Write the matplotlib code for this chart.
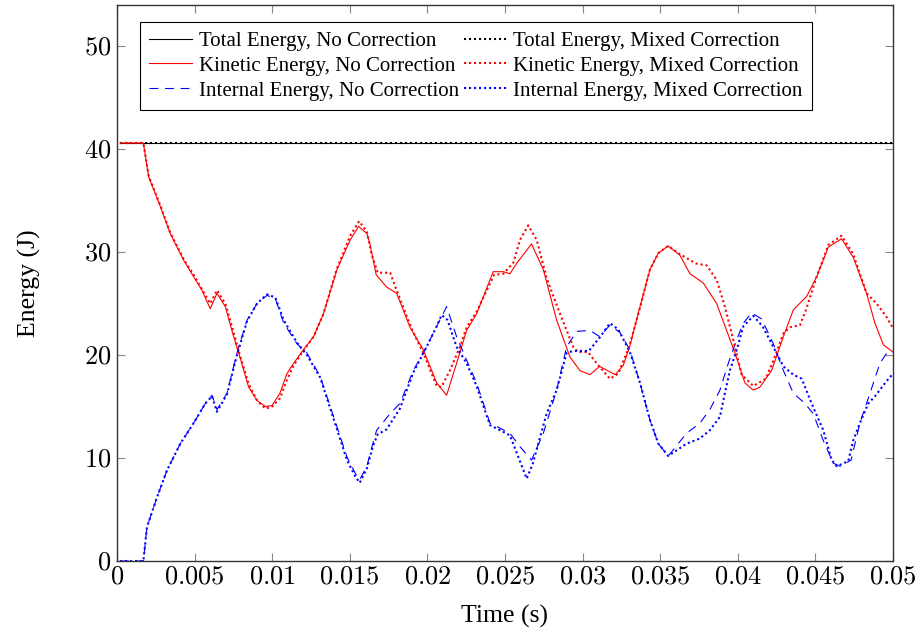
import numpy as np
import matplotlib
matplotlib.use("Agg")
import matplotlib.pyplot as plt
from matplotlib.ticker import FuncFormatter

plt.rcParams['font.family'] = ['Liberation Serif', 'DejaVu Serif']
plt.rcParams['mathtext.fontset'] = 'cm'

# total energy (both runs)
t_tot = [0.0002, 0.05]
e_tot_nc = [40.6, 40.6]
e_tot_mc = [40.6, 40.6]

# kinetic energy, no correction
t_ke_nc = [0.0002, 0.0016, 0.0017, 0.00204, 0.0028, 0.00343, 0.0043, 0.00494, 0.00547, 0.00601,
           0.00644, 0.00698, 0.0074, 0.00784, 0.00848, 0.00902, 0.00956, 0.00999, 0.0105, 0.01095,
           0.01138, 0.0120, 0.01267, 0.0133, 0.01417, 0.01503, 0.01557, 0.0161, 0.0163, 0.0167,
           0.01738, 0.01802, 0.01888, 0.01974, 0.0206, 0.02124, 0.02188, 0.02253, 0.02317, 0.02424,
           0.02489, 0.02532, 0.02575, 0.02671, 0.02747, 0.02833, 0.02919, 0.02983, 0.03047, 0.0311,
           0.0321, 0.03262, 0.03305, 0.0337, 0.03434, 0.03488, 0.03552, 0.03627, 0.03692, 0.03778,
           0.03864, 0.03928, 0.03982, 0.04046, 0.041, 0.04143, 0.04218, 0.04294, 0.04358, 0.04444,
           0.04508, 0.04584, 0.04669, 0.04744, 0.0483, 0.04884, 0.04938, 0.05]
e_ke_nc = [40.6, 40.6, 40.6, 37.3, 34.4, 31.8, 29.2, 27.6, 26.3, 24.5,
           26.0, 24.7, 22.4, 20.2, 16.9, 15.6, 15.0, 15.1, 16.3, 18.2,
           19.2, 20.5, 21.8, 24.0, 28.3, 31.2, 32.5, 31.8, 30.8, 27.8,
           26.6, 26.0, 22.7, 20.5, 17.3, 16.1, 19.2, 22.4, 24.0, 28.1,
           28.1, 27.9, 28.9, 30.8, 28.3, 23.4, 19.8, 18.5, 18.1, 18.9,
           18.1, 19.0, 20.9, 24.7, 28.3, 29.9, 30.6, 29.7, 27.9, 27.0,
           25.0, 22.4, 20.2, 17.3, 16.6, 16.9, 18.5, 21.8, 24.4, 25.7,
           27.6, 30.5, 31.3, 29.5, 26.0, 23.1, 21.0, 20.3]

# kinetic energy, mixed correction
t_ke_mc = [0.0002, 0.0016, 0.0017, 0.00204, 0.0028, 0.00343, 0.0043, 0.00494, 0.00547, 0.00601,
           0.00644, 0.00698, 0.0074, 0.00784, 0.00848, 0.00902, 0.00956, 0.00999, 0.0105, 0.01095,
           0.01138, 0.0120, 0.01267, 0.0133, 0.01417, 0.01503, 0.0156, 0.0161, 0.0164, 0.0168,
           0.0176, 0.01802, 0.0190, 0.01974, 0.0206, 0.0209, 0.02145, 0.0221, 0.02253, 0.02317,
           0.0243, 0.0249, 0.02555, 0.02597, 0.0265, 0.02704, 0.0277, 0.0286, 0.0294, 0.0297,
           0.03035, 0.0309, 0.03176, 0.0323, 0.0330, 0.0337, 0.03434, 0.03488, 0.03552, 0.03627,
           0.0373, 0.038, 0.03864, 0.03917, 0.03971, 0.04025, 0.041, 0.0418, 0.0423, 0.04294,
           0.04336, 0.0440, 0.0444, 0.04508, 0.04584, 0.04669, 0.04744, 0.0483, 0.04895, 0.04959,
           0.05]
e_ke_mc = [40.6, 40.6, 40.6, 37.4, 34.5, 31.9, 29.3, 27.8, 26.4, 25.0,
           26.3, 25.0, 22.8, 20.4, 17.2, 15.6, 14.8, 15.0, 15.8, 17.6,
           19.0, 20.4, 21.8, 24.0, 28.4, 31.6, 33.0, 32.0, 29.8, 28.0,
           28.0, 26.3, 22.5, 20.2, 17.0, 16.9, 18.5, 20.8, 22.7, 24.2,
           27.8, 27.9, 29.0, 31.2, 32.6, 31.2, 27.4, 23.8, 20.8, 20.3,
           20.3, 19.2, 17.7, 18.2, 20.8, 24.6, 28.3, 29.9, 30.6, 29.8,
           28.9, 28.7, 27.3, 24.7, 21.5, 18.1, 17.0, 17.7, 19.5, 22.1,
           22.7, 22.9, 24.4, 27.6, 30.7, 31.6, 29.8, 26.0, 25.0, 23.7,
           22.6]

# internal energy, no correction
t_ie_nc = [0.0002, 0.0017, 0.00193, 0.00258, 0.00322, 0.00408, 0.00494, 0.00569, 0.00612, 0.00644,
           0.00709, 0.00773, 0.00838, 0.00902, 0.00966, 0.0102, 0.01074, 0.0116, 0.01224, 0.0131,
           0.01396, 0.01482, 0.01536, 0.01564, 0.0161, 0.0165, 0.01673, 0.01759, 0.01823, 0.01909,
           0.01995, 0.0206, 0.02124, 0.02188, 0.02253, 0.02317, 0.02403, 0.02468, 0.02532, 0.02597,
           0.02671, 0.02747, 0.02833, 0.02897, 0.02962, 0.03047, 0.0311, 0.03176, 0.0324, 0.03305,
           0.0337, 0.03434, 0.03488, 0.03552, 0.0367, 0.03756, 0.0382, 0.03885, 0.03939, 0.03993,
           0.04036, 0.04089, 0.04154, 0.04229, 0.04294, 0.04358, 0.04433, 0.04487, 0.04551, 0.04616,
           0.04659, 0.0473, 0.04787, 0.04852, 0.04916, 0.0496, 0.05]
e_ie_nc = [0.0, 0.0, 3.3, 6.2, 8.8, 11.4, 13.4, 15.3, 16.1, 14.7,
           16.3, 20.2, 23.4, 25.0, 25.8, 25.5, 23.1, 21.1, 20.2, 17.9,
           14.0, 10.1, 8.5, 7.9, 9.2, 11.5, 12.7, 14.3, 15.3, 18.5,
           20.8, 22.8, 24.7, 21.8, 19.5, 17.3, 13.4, 12.9, 12.4, 11.1,
           9.8, 12.4, 16.6, 20.8, 22.3, 22.4, 21.8, 22.9, 22.2, 20.5,
           17.3, 13.7, 11.4, 10.2, 12.4, 13.4, 14.7, 16.6, 19.2, 21.5,
           23.1, 24.1, 23.5, 21.1, 18.5, 16.3, 15.3, 14.3, 11.7, 9.5,
           9.2, 9.8, 13.4, 16.3, 19.2, 20.2, 20.3]

# internal energy, mixed correction
t_ie_mc = [0.0002, 0.0017, 0.00193, 0.00258, 0.00322, 0.00408, 0.00494, 0.00569, 0.00612, 0.00644,
           0.00709, 0.00773, 0.00838, 0.00902, 0.00966, 0.0102, 0.01074, 0.0116, 0.01224, 0.0131,
           0.01396, 0.01482, 0.01536, 0.01564, 0.0161, 0.0165, 0.0168, 0.01738, 0.01823, 0.01909,
           0.01995, 0.0206, 0.02092, 0.0213, 0.02188, 0.02253, 0.02317, 0.02403, 0.02468, 0.02532,
           0.0264, 0.0268, 0.02768, 0.02833, 0.02897, 0.0294, 0.0304, 0.0311, 0.03176, 0.0323,
           0.03305, 0.0337, 0.03434, 0.03488, 0.03552, 0.0367, 0.03756, 0.0382, 0.03885, 0.03917,
           0.03949, 0.03993, 0.04036, 0.041, 0.0416, 0.04229, 0.04294, 0.04358, 0.04412, 0.04476,
           0.04551, 0.04605, 0.04638, 0.04712, 0.04744, 0.04787, 0.04841, 0.04884, 0.0495, 0.05]
e_ie_mc = [0.0, 0.0, 3.3, 6.2, 8.8, 11.4, 13.4, 15.3, 16.0, 14.5,
           16.2, 20.0, 23.3, 25.0, 25.9, 25.6, 23.4, 21.2, 20.0, 17.8,
           13.8, 9.8, 8.2, 7.6, 9.0, 11.2, 12.3, 12.8, 14.8, 18.3,
           20.8, 22.8, 23.9, 23.4, 20.8, 19.2, 17.0, 13.2, 12.7, 12.2,
           8.0, 9.5, 14.3, 16.6, 20.2, 20.4, 20.4, 21.7, 23.1, 22.5,
           20.3, 17.3, 13.7, 11.4, 10.2, 11.4, 11.9, 12.7, 14.0, 16.3,
           18.5, 20.5, 22.8, 23.8, 22.8, 20.8, 18.9, 18.1, 17.7, 15.3,
           12.7, 9.8, 9.2, 9.7, 11.7, 13.4, 15.3, 16.0, 17.3, 18.2]

fig = plt.figure(figsize=(9.22, 6.34), dpi=100)
ax = fig.add_axes([0.1269, 0.1151, 0.8416, 0.877])

dot = (0, (1, 1.4))
ax.plot(t_tot, e_tot_nc, color='k', lw=0.8, label='Total Energy, No Correction')
ax.plot(t_ke_nc, e_ke_nc, color='#ff0000', lw=0.8, label='Kinetic Energy, No Correction')
ax.plot(t_ie_nc, e_ie_nc, color='#0000ff', lw=0.8, ls=(0, (8, 6)), label='Internal Energy, No Correction')
ax.plot(t_tot, e_tot_mc, color='k', lw=1.5, ls=dot, label='Total Energy, Mixed Correction')
ax.plot(t_ke_mc, e_ke_mc, color='#ff0000', lw=1.5, ls=dot, label='Kinetic Energy, Mixed Correction')
ax.plot(t_ie_mc, e_ie_mc, color='#0000ff', lw=1.5, ls=dot, label='Internal Energy, Mixed Correction')

ax.set_xlim(0, 0.05)
ax.set_ylim(0, 54)
ax.set_xticks(np.arange(0, 0.0501, 0.005))
ax.set_yticks([0, 10, 20, 30, 40, 50])
ax.xaxis.set_major_formatter(FuncFormatter(lambda v, p: '$%g$' % round(v, 4)))
ax.yaxis.set_major_formatter(FuncFormatter(lambda v, p: '$%g$' % v))
ax.tick_params(direction='in', top=True, right=True, length=6, width=0.8,
               color='#888888', labelsize=19, pad=4)
for s in ax.spines.values():
    s.set_linewidth(1.0)
    s.set_color('#333333')

ax.set_xlabel('Time (s)', fontsize=18.5, labelpad=12)
ax.set_ylabel('Energy (J)', fontsize=18.5, labelpad=31)

leg = ax.legend(ncol=2, loc='upper left', bbox_to_anchor=(0.0296, 0.9695), fontsize=15,
                frameon=True, fancybox=False, edgecolor='k', framealpha=1,
                handlelength=2.07, handletextpad=0.3, columnspacing=0.25,
                labelspacing=0.25, borderpad=0.45, borderaxespad=0)
leg.get_frame().set_linewidth(0.8)

fig.savefig('out.png', dpi=100)
